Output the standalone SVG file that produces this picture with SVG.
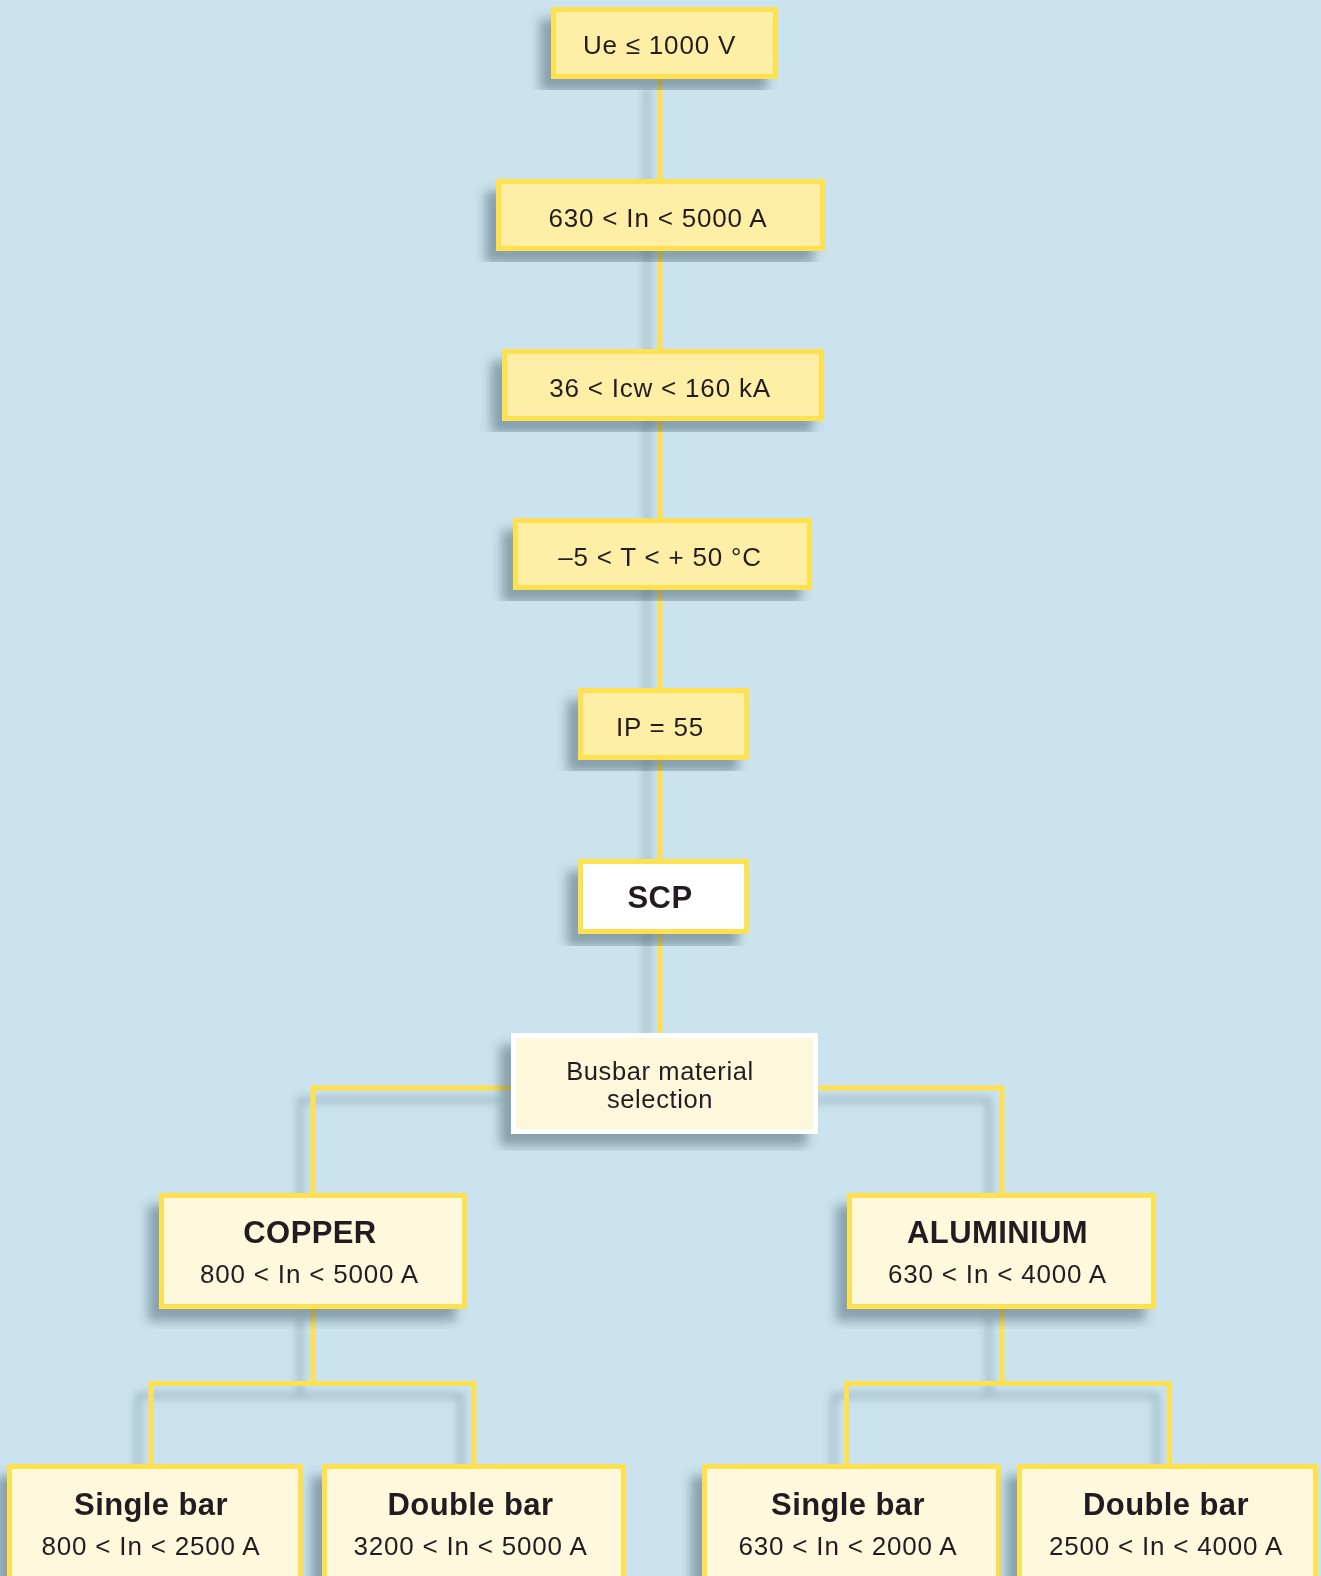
<svg xmlns="http://www.w3.org/2000/svg" width="1321" height="1576" viewBox="0 0 1321 1576">
<defs>
<filter id="sh" x="-20%" y="-20%" width="140%" height="140%">
<feDropShadow dx="-11" dy="12" stdDeviation="5.5" flood-color="#3d5866" flood-opacity="0.48"/>
</filter>
<filter id="shl" x="-20%" y="-20%" width="140%" height="140%">
<feDropShadow dx="-13" dy="12" stdDeviation="4" flood-color="#3d5866" flood-opacity="0.35"/>
</filter>
<style>
.conn{fill:none;stroke:#ffe04f;stroke-width:5;stroke-linecap:square}
.y{fill:#ffeea6;stroke:#ffe04f;stroke-width:5}
.p{fill:#fef8dc;stroke:#ffe04f;stroke-width:5}
.w{fill:#ffffff;stroke:#ffe04f;stroke-width:5}
.b{fill:#fdf7dc;stroke:#ffffff;stroke-width:5}
text{font-family:"Liberation Sans",Arial,Helvetica,sans-serif;fill:#231f20;text-anchor:middle}
.t{font-size:26px;letter-spacing:0.8px}
.s{font-size:25.5px;letter-spacing:0.6px}
.h{font-size:31px;font-weight:bold;letter-spacing:0.4px}
</style>
</defs>
<rect width="1321" height="1576" fill="#cae3ee"/>
<g id="connectors" class="conn" filter="url(#shl)">
<path d="M660,79 V1035"/>
<path d="M511,1088 H313 V1195"/>
<path d="M818,1088 H1002 V1195"/>
<path d="M313,1309 V1383.5"/>
<path d="M151,1466 V1383.5 H474 V1466"/>
<path d="M1002,1308 V1383.5"/>
<path d="M846.5,1466 V1383.5 H1169.5 V1466"/>
</g>
<g id="n-ue" filter="url(#sh)">
<rect class="y" x="553.5" y="9.5" width="222" height="67"/>
<text class="t" x="659.5" y="54">Ue ≤ 1000 V</text>
</g>
<g id="n-in" filter="url(#sh)">
<rect class="y" x="498.5" y="181.5" width="324" height="67"/>
<text class="t" x="658" y="227">630 &lt; In &lt; 5000 A</text>
</g>
<g id="n-icw" filter="url(#sh)">
<rect class="y" x="504.5" y="351.5" width="317" height="67"/>
<text class="t" x="660" y="397">36 &lt; Icw &lt; 160 kA</text>
</g>
<g id="n-t" filter="url(#sh)">
<rect class="y" x="515.5" y="520.5" width="294" height="67"/>
<text class="t" x="660" y="566">–5 &lt; T &lt; + 50 °C</text>
</g>
<g id="n-ip" filter="url(#sh)">
<rect class="y" x="580.5" y="690.5" width="166" height="67"/>
<text class="t" x="660" y="736">IP = 55</text>
</g>
<g id="n-scp" filter="url(#sh)">
<rect class="w" x="580.5" y="861.5" width="166" height="70"/>
<text class="h" x="660" y="908">SCP</text>
</g>
<g id="n-busbar" filter="url(#sh)">
<rect class="b" x="513.5" y="1035.5" width="302" height="96"/>
<text class="s" x="660" y="1080">Busbar material</text>
<text class="s" x="660" y="1108">selection</text>
</g>
<g id="n-copper" filter="url(#sh)">
<rect class="p" x="161.5" y="1195.5" width="303" height="111"/>
<text class="h" x="310" y="1243">COPPER</text>
<text class="t" x="309.5" y="1283">800 &lt; In &lt; 5000 A</text>
</g>
<g id="n-aluminium" filter="url(#sh)">
<rect class="p" x="849.5" y="1195.5" width="304" height="111"/>
<text class="h" x="997.5" y="1243">ALUMINIUM</text>
<text class="t" x="997.5" y="1283">630 &lt; In &lt; 4000 A</text>
</g>
<g id="n-cu-single" filter="url(#sh)">
<rect class="p" x="9.5" y="1466.5" width="291" height="200"/>
<text class="h" x="151" y="1515">Single bar</text>
<text class="t" x="151" y="1555">800 &lt; In &lt; 2500 A</text>
</g>
<g id="n-cu-double" filter="url(#sh)">
<rect class="p" x="324.5" y="1466.5" width="299" height="200"/>
<text class="h" x="470.5" y="1515">Double bar</text>
<text class="t" x="470.5" y="1555">3200 &lt; In &lt; 5000 A</text>
</g>
<g id="n-al-single" filter="url(#sh)">
<rect class="p" x="704.5" y="1466.5" width="294" height="200"/>
<text class="h" x="848" y="1515">Single bar</text>
<text class="t" x="848" y="1555">630 &lt; In &lt; 2000 A</text>
</g>
<g id="n-al-double" filter="url(#sh)">
<rect class="p" x="1019.5" y="1466.5" width="296" height="200"/>
<text class="h" x="1166" y="1515">Double bar</text>
<text class="t" x="1166" y="1555">2500 &lt; In &lt; 4000 A</text>
</g>
</svg>
